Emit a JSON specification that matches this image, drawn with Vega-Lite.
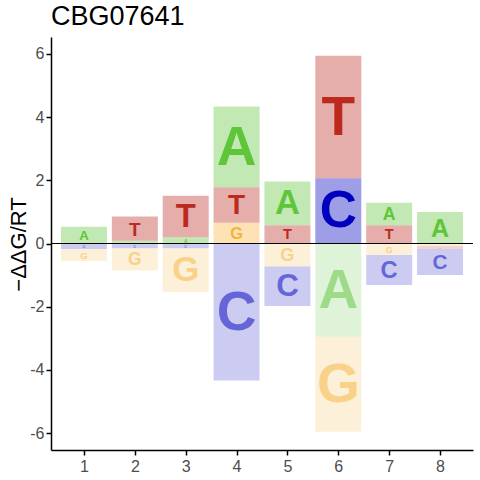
{
  "$schema": "https://vega.github.io/schema/vega-lite/v6.json",
  "width": 422,
  "height": 413,
  "autosize": {"type": "none"},
  "padding": {"left": 51, "top": 37, "right": 7, "bottom": 30},
  "background": "white",
  "title": {
    "text": "CBG07641",
    "anchor": "start",
    "frame": "group",
    "font": "Liberation Sans",
    "fontSize": 27,
    "fontWeight": "normal",
    "color": "black",
    "offset": 6
  },
  "config": {
    "view": {"stroke": null},
    "axis": {
      "grid": false,
      "domainColor": "black",
      "domainWidth": 1.5,
      "tickColor": "black",
      "tickWidth": 1.5,
      "tickSize": 5,
      "labelFont": "Liberation Sans",
      "labelFontSize": 16,
      "labelColor": "#4D4D4D",
      "titleFont": "Liberation Sans",
      "titleFontSize": 22,
      "titleFontWeight": "normal",
      "titleColor": "black"
    }
  },
  "data": {
    "values": [
      {"pos": 1, "letter": "A", "value": 0.53},
      {"pos": 1, "letter": "C", "value": -0.17},
      {"pos": 1, "letter": "G", "value": -0.38},
      {"pos": 2, "letter": "A", "value": 0.09},
      {"pos": 2, "letter": "T", "value": 0.76},
      {"pos": 2, "letter": "C", "value": -0.15},
      {"pos": 2, "letter": "G", "value": -0.7},
      {"pos": 3, "letter": "A", "value": 0.2},
      {"pos": 3, "letter": "T", "value": 1.31},
      {"pos": 3, "letter": "C", "value": -0.15},
      {"pos": 3, "letter": "G", "value": -1.39},
      {"pos": 4, "letter": "G", "value": 0.66},
      {"pos": 4, "letter": "T", "value": 1.12},
      {"pos": 4, "letter": "A", "value": 2.55},
      {"pos": 4, "letter": "C", "value": -4.33},
      {"pos": 5, "letter": "T", "value": 0.58},
      {"pos": 5, "letter": "A", "value": 1.38},
      {"pos": 5, "letter": "G", "value": -0.73},
      {"pos": 5, "letter": "C", "value": -1.25},
      {"pos": 6, "letter": "C", "value": 2.06},
      {"pos": 6, "letter": "T", "value": 3.88},
      {"pos": 6, "letter": "A", "value": -2.95},
      {"pos": 6, "letter": "G", "value": -3.0},
      {"pos": 7, "letter": "T", "value": 0.58},
      {"pos": 7, "letter": "A", "value": 0.71},
      {"pos": 7, "letter": "G", "value": -0.36},
      {"pos": 7, "letter": "C", "value": -0.95},
      {"pos": 8, "letter": "A", "value": 1.0},
      {"pos": 8, "letter": "G", "value": -0.07},
      {"pos": 8, "letter": "T", "value": -0.1},
      {"pos": 8, "letter": "C", "value": -0.83}
    ]
  },
  "encoding": {
    "x": {
      "field": "pos",
      "type": "quantitative",
      "scale": {"domain": [0.45, 8.55], "nice": false, "zero": false},
      "axis": {"values": [1, 2, 3, 4, 5, 6, 7, 8], "title": null, "labelPadding": 3}
    },
    "color": {
      "field": "letter",
      "type": "nominal",
      "scale": {"domain": ["A", "C", "G", "T"], "range": ["#5FC53A", "#0000BE", "#F6B33C", "#BC2A1F"]},
      "legend": null
    }
  },
  "layer": [
    {
      "transform": [{"filter": "datum.value > 0"}],
      "mark": {"type": "bar", "width": 46, "opacity": 0.38},
      "encoding": {
        "y": {
          "field": "value",
          "type": "quantitative",
          "stack": "zero",
          "scale": {"domain": [-6.53, 6.53], "nice": false},
          "axis": {"values": [-6, -4, -2, 0, 2, 4, 6], "labelExpr": "replace(datum.label, '−', '-')", "title": "−ΔΔG/RT", "titleAngle": 270, "titleAlign": "center", "titleBaseline": "alphabetic", "titleX": -26, "titleY": 207, "labelPadding": 2}
        },
        "order": {"field": "value", "sort": "ascending"}
      }
    },
    {
      "transform": [{"filter": "datum.value < 0"}],
      "mark": {"type": "bar", "width": 46, "opacity": 0.2},
      "encoding": {
        "y": {"field": "value", "type": "quantitative", "stack": "zero"},
        "order": {"field": "value", "sort": "descending"}
      }
    },
    {
      "transform": [{"filter": "datum.value > 0"}],
      "mark": {"type": "text", "font": "Liberation Sans", "fontWeight": "bold", "baseline": "middle", "align": "center", "dy": 1},
      "encoding": {
        "y": {"field": "value", "type": "quantitative", "stack": "zero", "bandPosition": 0.5},
        "order": {"field": "value", "sort": "ascending"},
        "text": {"field": "letter"},
        "size": {"field": "value", "type": "quantitative", "scale": {"type": "linear", "domain": [0, 2.2], "range": [0, 55], "clamp": true}, "legend": null}
      }
    },
    {
      "transform": [{"filter": "datum.value < 0"}],
      "mark": {"type": "text", "font": "Liberation Sans", "fontWeight": "bold", "baseline": "middle", "align": "center", "dy": 1, "opacity": 0.5},
      "encoding": {
        "y": {"field": "value", "type": "quantitative", "stack": "zero", "bandPosition": 0.5},
        "order": {"field": "value", "sort": "descending"},
        "text": {"field": "letter"},
        "size": {"field": "value", "type": "quantitative", "scale": {"type": "linear", "domain": [0, -2.2], "range": [0, 55], "clamp": true}, "legend": null}
      }
    },
    {
      "mark": {"type": "rule", "color": "black", "strokeWidth": 1},
      "encoding": {"y": {"datum": 0}, "x": null, "color": null}
    }
  ],
  "resolve": {"scale": {"size": "independent"}}
}
